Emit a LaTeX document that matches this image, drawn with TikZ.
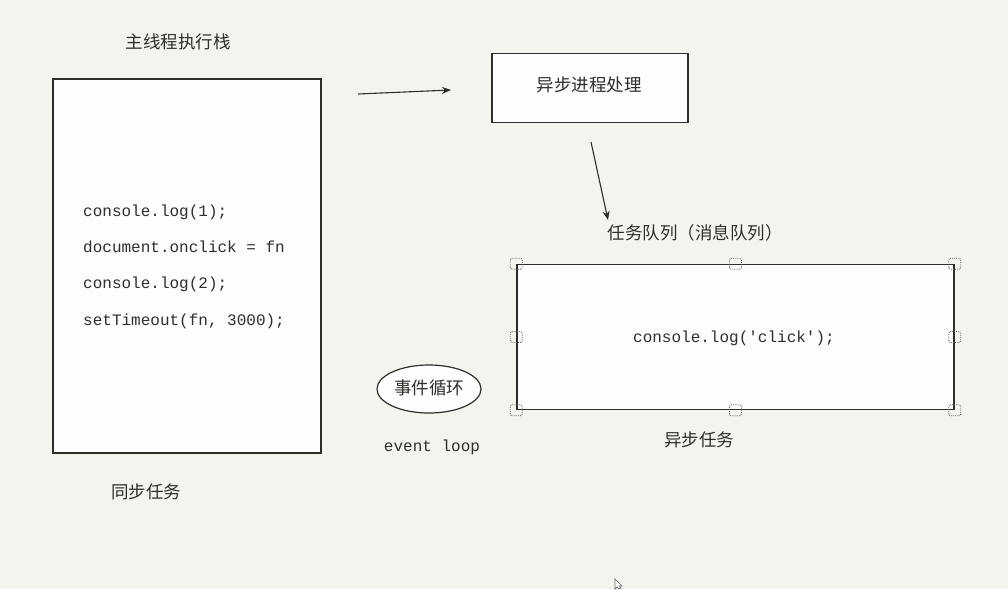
\documentclass[tikz,border=0pt]{standalone}
\usepackage{fontspec}
\newfontfamily\cjk{Noto Sans CJK SC}
\newfontfamily\code{Liberation Mono}
\usetikzlibrary{arrows.meta,shapes.geometric}
\definecolor{bg}{HTML}{F4F3EE}
\definecolor{boxfill}{HTML}{FDFDFB}
\definecolor{ink}{HTML}{2E2E2A}
\tikzset{
  box/.style={draw=ink, line width=1.5pt, fill=boxfill, inner sep=0pt},
  cn/.style={font=\cjk\fontsize{17.5}{20}\selectfont, text=ink, inner sep=0pt},
  codetext/.style={font=\code\fontsize{16}{18}\selectfont, text=ink, inner sep=0pt},
  arr/.style={draw=ink, line width=1.1pt, -{Stealth[length=9pt,width=7pt]}},
  handle/.style={draw=gray!80!black, densely dotted, line width=0.9pt, rounded corners=2pt, fill=none},
}
\begin{document}
\begin{tikzpicture}[x=1pt,y=-1pt]
\fill[bg] (0,0) rectangle (1008,589);
\useasboundingbox (0,0) rectangle (1008,589);

% main stack
\node[cn] (title) at (178,42) {主线程执行栈};
\node[box, minimum width=268pt, minimum height=374pt] (stack) at (187,266) {};
\node[codetext, anchor=west] (c1) at (83,212) {console.log(1);};
\node[codetext, anchor=west] (c2) at (83,247) {document.onclick = fn};
\node[codetext, anchor=west] (c3) at (83,284) {console.log(2);};
\node[codetext, anchor=west] (c4) at (83,321) {setTimeout(fn, 3000);};
\node[cn] (sync) at (146,492) {同步任务};

% async process
\node[box, minimum width=196pt, minimum height=69pt] (proc) at (590,88) {};
\node[cn] (proct) at (589,85) {异步进程处理};
\coordinate (a1s) at (358,94);
\coordinate (a1e) at (451,90);
\draw[arr] (a1s) -- (a1e);
\coordinate (a2s) at (591,142);
\coordinate (a2e) at (608,220);
\draw[arr] (a2s) -- (a2e);

% queue
\node[cn] (qtitle) at (695,233) {任务队列（消息队列）};
\node[box, minimum width=437pt, minimum height=145pt] (queue) at (735.5,337) {};
\node[codetext] (qcode) at (734,338) {console.log('click');};
\foreach \p in {north west,north,north east,west,east,south west,south,south east}{
  \draw[handle] ([xshift=-6pt,yshift=-5.5pt]queue.\p) rectangle ([xshift=6pt,yshift=5.5pt]queue.\p);
}
\node[cn] (async) at (699,440) {异步任务};

% event loop
\node[ellipse, draw=ink, line width=1.2pt, fill=boxfill, minimum width=104pt, minimum height=48pt, inner sep=0pt] (loop) at (429,389) {};
\node[cn] (loopt) at (429,388) {事件循环};
\node[codetext] (evl) at (432,447) {event loop};

% mouse cursor
\draw[draw=gray!80!black, fill=white, line width=0.7pt]
  (615,579) -- (615,589) -- (617,587) -- (619,589) -- (621,588) -- (619,586) -- (622,586) -- cycle;
\end{tikzpicture}
\end{document}
